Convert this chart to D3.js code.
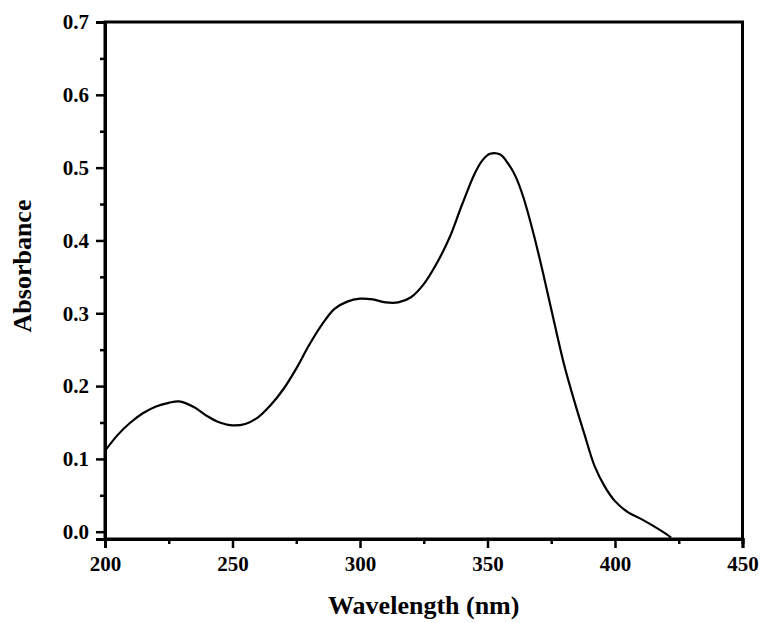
<!DOCTYPE html>
<meta charset="utf-8">
<script src="https://d3js.org/d3.v7.min.js"></script>
<style>
  body { margin: 0; background: #fff; }
  text { font-family: "Liberation Serif", "Times New Roman", serif; font-weight: bold; fill: #000; }
</style>
<svg id="chart" width="763" height="623"></svg>
<script>
// spectrum
var wavelength = [200, 205, 210, 215, 220, 225, 229, 235, 240, 245, 250, 255, 260, 265, 270, 275,
                  280, 285, 290, 295, 300, 305, 310, 315, 320, 325, 330, 335, 340, 345, 348, 351,
                  355, 358, 361, 364, 368, 372, 376, 380, 384, 388, 392, 396, 400, 405, 410, 415, 420, 422];
var absorbance = [0.111, 0.133, 0.150, 0.163, 0.172, 0.177, 0.179, 0.171, 0.159, 0.150, 0.146, 0.148, 0.157, 0.174, 0.196, 0.224,
                  0.256, 0.284, 0.306, 0.316, 0.320, 0.319, 0.315, 0.315, 0.322, 0.340, 0.368, 0.403, 0.449, 0.492, 0.510, 0.519,
                  0.518, 0.506, 0.488, 0.460, 0.410, 0.352, 0.290, 0.230, 0.180, 0.134, 0.090, 0.062, 0.042, 0.027, 0.018, 0.008, -0.003, -0.008];

var xTicks = [200, 250, 300, 350, 400, 450];
var xMinor = [225, 275, 325, 375, 425];
var yTicks = [0.0, 0.1, 0.2, 0.3, 0.4, 0.5, 0.6, 0.7];
var yMinor = [0.05, 0.15, 0.25, 0.35, 0.45, 0.55, 0.65];

var svg = d3.select("#chart");
var plotL = 105, plotR = 742.5, plotT = 22, plotB = 539;

var x = d3.scaleLinear().domain([200, 450]).range([plotL, plotR]);
var y = d3.scaleLinear().domain([-0.01, 0.7]).range([plotB, plotT]);

// frame
svg.append("rect")
    .attr("x", plotL).attr("y", plotT)
    .attr("width", plotR - plotL).attr("height", plotB - plotT)
    .attr("fill", "none").attr("stroke", "#000").attr("stroke-width", 3);

// x axis
svg.append("g").attr("transform", "translate(0," + plotB + ")")
    .call(d3.axisBottom(x).tickValues(xTicks).tickFormat(d3.format("d")).tickSize(9).tickPadding(8));
svg.append("g").attr("transform", "translate(0," + plotB + ")")
    .call(d3.axisBottom(x).tickValues(xMinor).tickFormat("").tickSize(5));

// y axis
svg.append("g").attr("transform", "translate(" + plotL + ",0)")
    .call(d3.axisLeft(y).tickValues(yTicks).tickFormat(d3.format(".1f")).tickSize(9).tickPadding(7));
svg.append("g").attr("transform", "translate(" + plotL + ",0)")
    .call(d3.axisLeft(y).tickValues(yMinor).tickFormat("").tickSize(5));

svg.selectAll(".domain").attr("stroke", "#000").attr("stroke-width", 3);
svg.selectAll(".tick line").attr("stroke", "#000").attr("stroke-width", 2.5);
svg.selectAll(".tick text").style("font-size", "21px").style("font-family", "'Liberation Serif', serif")
    .style("font-weight", "bold").attr("fill", "#000");

// curve
var pts = wavelength.map(function (w, i) { return [w, absorbance[i]]; });
svg.append("path")
    .datum(pts)
    .attr("fill", "none")
    .attr("stroke", "#000")
    .attr("stroke-width", 2.2)
    .attr("stroke-linejoin", "round")
    .attr("d", d3.line()
        .x(function (d) { return x(d[0]); })
        .y(function (d) { return y(d[1]); })
        .curve(d3.curveCatmullRom.alpha(0.5)));

// titles
svg.append("text")
    .attr("x", (plotL + plotR) / 2).attr("y", 614)
    .attr("text-anchor", "middle")
    .style("font-size", "26px")
    .text("Wavelength (nm)");

svg.append("text")
    .attr("transform", "translate(31,266) rotate(-90)")
    .attr("text-anchor", "middle")
    .style("font-size", "26px")
    .text("Absorbance");
</script>
